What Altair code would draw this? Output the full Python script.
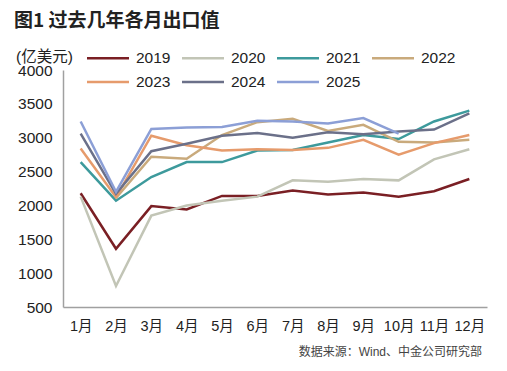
import altair as alt
import pandas as pd

months = ["1月", "2月", "3月", "4月", "5月", "6月", "7月", "8月", "9月", "10月", "11月", "12月"]
years = ["2019", "2020", "2021", "2022", "2023", "2024", "2025"]
v2019 = [2180, 1360, 1990, 1940, 2140, 2140, 2220, 2160, 2190, 2130, 2210, 2390]
v2020 = [2130, 810, 1850, 2000, 2070, 2130, 2370, 2350, 2390, 2370, 2680, 2830]
v2021 = [2640, 2070, 2420, 2640, 2640, 2810, 2820, 2930, 3040, 2980, 3240, 3400]
v2022 = [None, 2110, 2720, 2690, 3040, 3230, 3280, 3100, 3190, 2940, 2930, 2970]
v2023 = [2840, 2120, 3030, 2890, 2810, 2830, 2820, 2850, 2970, 2750, 2920, 3040]
v2024 = [3060, 2170, 2800, 2910, 3030, 3070, 3000, 3080, 3050, 3090, 3120, 3360]
v2025 = [3240, 2200, 3130, 3150, 3160, 3250, 3240, 3210, 3290, 3060, None, None]
colors = ["#7a1f24", "#c2c5b6", "#3d9a9c", "#c9aa7c", "#e69b6c", "#6b7089", "#8c9fd6"]
widths = [2.5, 2.5, 2.2, 2.2, 2.2, 2.2, 4.5]

series = [v2019, v2020, v2021, v2022, v2023, v2024, v2025]
rows = []
for y, vals in zip(years, series):
    for i, (m, v) in enumerate(zip(months, vals)):
        if v is not None:
            rows.append({"month": m, "year": y, "value": v, "order": i})
df = pd.DataFrame(rows)

FONT = "Liberation Sans, Noto Sans CJK SC"

legend_opts = dict(title=None, orient="none", legendX=33, legendY=-24,
                   columns=4, direction="horizontal", symbolType="M-2,0H2",
                   symbolSize=441, labelFontSize=15.5, labelFont=FONT,
                   labelColor="#222", columnPadding=6, rowPadding=3,
                   labelOffset=16, padding=0)

lines = alt.Chart(df).mark_line().encode(
    x=alt.X("month:N", sort=months, scale=alt.Scale(domain=months, padding=0.5),
            axis=alt.Axis(title=None, labelAngle=0, ticks=False, labelPadding=12,
                          labelFontSize=14.5, labelColor="#222", labelFont=FONT,
                          domainColor="#a0a0a0", domainWidth=1.5, grid=False)),
    y=alt.Y("value:Q", scale=alt.Scale(domain=[500, 4000], nice=False, zero=False),
            axis=alt.Axis(title=None, values=list(range(500, 4001, 500)), format="d",
                          ticks=False, labelPadding=11, labelFontSize=15.5,
                          labelColor="#222", labelFont=FONT, domainColor="#a0a0a0",
                          domainWidth=1.5, grid=False)),
    color=alt.Color("year:N", scale=alt.Scale(domain=years, range=colors),
                    legend=alt.Legend(**legend_opts)),
    strokeWidth=alt.StrokeWidth("year:N", scale=alt.Scale(domain=years, range=widths),
                                legend=alt.Legend(**legend_opts)),
    order=alt.Order("order:Q"),
)

title = alt.Chart(pd.DataFrame({"t": ["图1 过去几年各月出口值"]})).mark_text(
    align="left", baseline="middle", fontSize=19, fontWeight="bold",
    font="Noto Sans CJK SC", color="#222"
).encode(text="t:N", x=alt.value(-49), y=alt.value(-49))

unit = alt.Chart(pd.DataFrame({"t": ["(亿美元)"]})).mark_text(
    align="left", baseline="middle", fontSize=15.5, font=FONT, color="#222"
).encode(text="t:N", x=alt.value(-47), y=alt.value(-13))

source = alt.Chart(pd.DataFrame({"t": ["数据来源：Wind、中金公司研究部"]})).mark_text(
    align="right", baseline="middle", fontSize=12, font=FONT, color="#444"
).encode(text="t:N", x=alt.value(419), y=alt.value(282))

chart = alt.layer(lines, title, unit, source).properties(
    width=424, height=237,
    autosize=alt.AutoSizeParams(type="none"),
    padding={"left": 55, "top": 62, "right": 12, "bottom": 55},
    background="white",
).configure_view(stroke=None)

chart.save("out.html", embed_options={"renderer": "svg", "actions": False})
